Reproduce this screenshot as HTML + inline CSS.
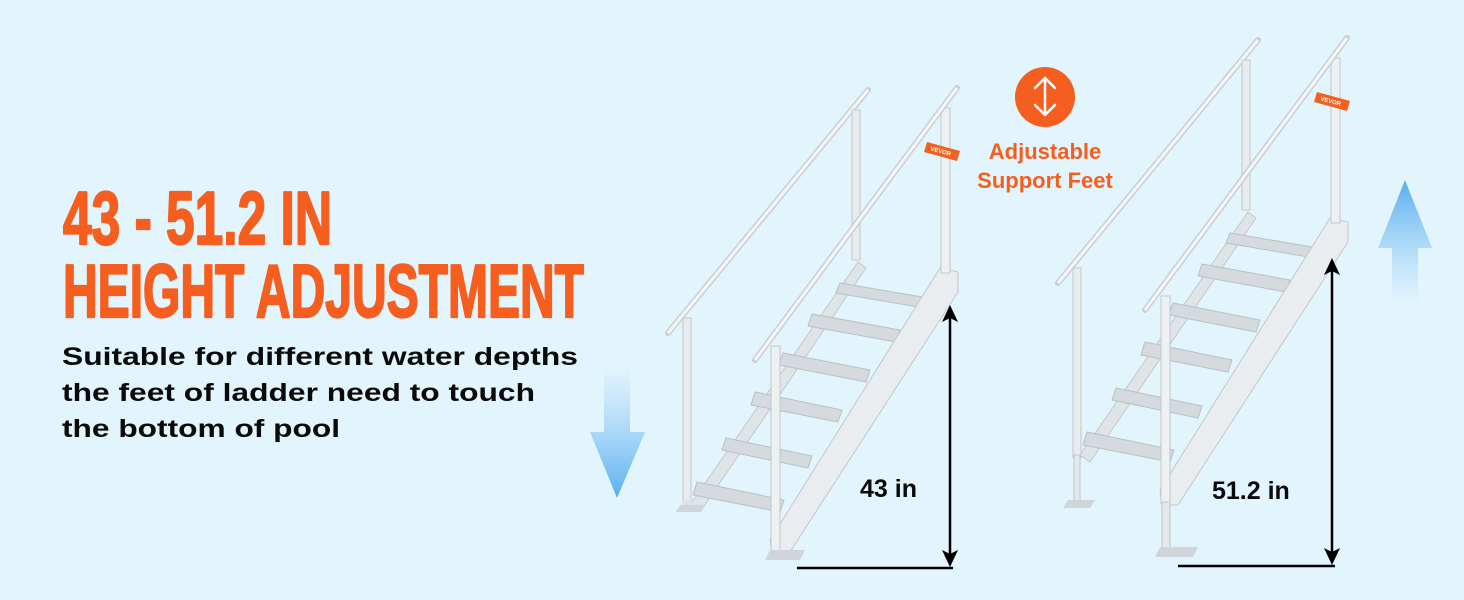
<!DOCTYPE html>
<html><head><meta charset="utf-8"><style>
html,body{margin:0;padding:0;background:#e2f5fc;}
svg{display:block}
</style></head><body>
<svg width="1464" height="600" viewBox="0 0 1464 600" xmlns="http://www.w3.org/2000/svg">
<defs>
<linearGradient id="gd" x1="0" y1="0" x2="0" y2="1"><stop offset="0" stop-color="#8cc8f5" stop-opacity="0"/><stop offset="1" stop-color="#5aaef0"/></linearGradient>
<linearGradient id="gu" x1="0" y1="1" x2="0" y2="0"><stop offset="0" stop-color="#8cc8f5" stop-opacity="0"/><stop offset="1" stop-color="#5aaef0"/></linearGradient>
<g id="lad">
  <line x1="668" y1="333" x2="868" y2="90" stroke="#c9cfd3" stroke-width="6" stroke-linecap="round"/>
  <line x1="668" y1="333" x2="868" y2="90" stroke="#f4f6f7" stroke-width="3"/>
  <rect x="683" y="318" width="8" height="190" fill="#e8ecee" stroke="#c2c8cc"/>
  <rect x="852" y="110" width="8" height="150" fill="#e8ecee" stroke="#c2c8cc"/>
  <polygon points="690,505 858,262 866,268 700,512" fill="#dfe4e7" stroke="#c2c8cc"/>
  <g fill="#d4dadd" stroke="#b9c0c4">
    <polygon points="840,283 928,298 924,308 836,293"/>
    <polygon points="812,314 900,330 896,342 808,326"/>
    <polygon points="783,353 870,370 866,382 779,365"/>
    <polygon points="755,392 842,410 838,422 751,405"/>
    <polygon points="726,438 812,456 808,468 722,450"/>
    <polygon points="697,482 784,500 780,512 693,495"/>
  </g>
  <polygon points="770,540 940,268 958,272 958,292 788,555 772,555" fill="#e9edef" stroke="#c2c8cc"/>
  <rect x="941" y="108" width="9" height="165" fill="#eef1f2" stroke="#c2c8cc"/>
  <rect x="771" y="346" width="9" height="208" fill="#eef1f2" stroke="#c2c8cc"/>
  <line x1="755" y1="360" x2="957" y2="88" stroke="#c9cfd3" stroke-width="6" stroke-linecap="round"/>
  <line x1="755" y1="360" x2="957" y2="88" stroke="#f4f6f7" stroke-width="3"/>
  <polygon points="927,142 960,151 957,161 924,152" fill="#f26122"/>
  <text x="930" y="153" font-family="Liberation Sans" font-size="6" font-weight="bold" fill="#fff" transform="rotate(15 940 152)">VEVOR</text>
</g>
</defs>

<g font-family="'Liberation Sans Narrow','Liberation Sans',sans-serif" font-weight="bold" fill="#f55e1e" stroke="#f55e1e" stroke-width="2.2" stroke-linejoin="round">
  <text x="63" y="244" font-size="75" textLength="269" lengthAdjust="spacingAndGlyphs">43 - 51.2 IN</text>
  <text x="63" y="317" font-size="75" textLength="521" lengthAdjust="spacingAndGlyphs">HEIGHT ADJUSTMENT</text>
</g>
<g font-family="'Liberation Sans',sans-serif" font-weight="bold" fill="#0a0a0a" font-size="25">
  <text x="62" y="365" textLength="516" lengthAdjust="spacingAndGlyphs">Suitable for different water depths</text>
  <text x="62" y="401" textLength="473" lengthAdjust="spacingAndGlyphs">the feet of ladder need to touch</text>
  <text x="62" y="437" textLength="278" lengthAdjust="spacingAndGlyphs">the bottom of pool</text>
</g>

<polygon points="604,365 630,365 630,432 645,432 617,498 590,432 604,432" fill="url(#gd)"/>
<polygon points="1392,305 1418,305 1418,248 1432,248 1405,180 1378,248 1392,248" fill="url(#gu)"/>

<use href="#lad"/>
<rect x="682" y="500" width="10" height="8" fill="#dde2e5"/>
<polygon points="680,505 705,505 700,512 676,512" fill="#cfd5d8"/>
<polygon points="770,550 805,550 800,560 765,560" fill="#cfd5d8"/>

<g transform="translate(390,-50)">
  <use href="#lad"/>
  <rect x="684" y="505" width="6" height="48" fill="#e4e8ea" stroke="#c2c8cc"/>
  <polygon points="678,550 705,550 700,558 673,558" fill="#cfd5d8"/>
  <rect x="772" y="552" width="8" height="48" fill="#e4e8ea" stroke="#c2c8cc"/>
  <polygon points="770,597 808,597 803,607 765,607" fill="#cfd5d8"/>
</g>

<g stroke="#000" stroke-width="2.5" fill="none">
  <line x1="950" y1="318" x2="950" y2="555"/>
  <line x1="797" y1="568" x2="953" y2="568"/>
  <line x1="1332" y1="270" x2="1332" y2="553"/>
  <line x1="1178" y1="566" x2="1335" y2="566"/>
</g>
<g fill="#000">
  <polygon points="942,322 950,305 958,322 950,318"/>
  <polygon points="942,550 950,567 958,550 950,554"/>
  <polygon points="1324,275 1332,258 1340,275 1332,271"/>
  <polygon points="1324,548 1332,565 1340,548 1332,552"/>
</g>
<g font-family="'Liberation Sans',sans-serif" font-weight="bold" font-size="25" fill="#0a0a0a">
  <text x="860" y="497">43 in</text>
  <text x="1212" y="499">51.2 in</text>
</g>

<circle cx="1045" cy="97" r="30" fill="#f55e1e"/>
<g stroke="#fff" stroke-width="2.5" fill="none" stroke-linecap="round" stroke-linejoin="round">
  <polyline points="1035,88 1045,78 1055,88"/>
  <polyline points="1035,105 1045,115 1055,105"/>
  <line x1="1045" y1="80" x2="1045" y2="113"/>
</g>
<g font-family="'Liberation Sans',sans-serif" font-weight="bold" font-size="22" fill="#f55e1e" text-anchor="middle">
  <text x="1045" y="159">Adjustable</text>
  <text x="1045" y="188">Support Feet</text>
</g>
</svg>
</body></html>
